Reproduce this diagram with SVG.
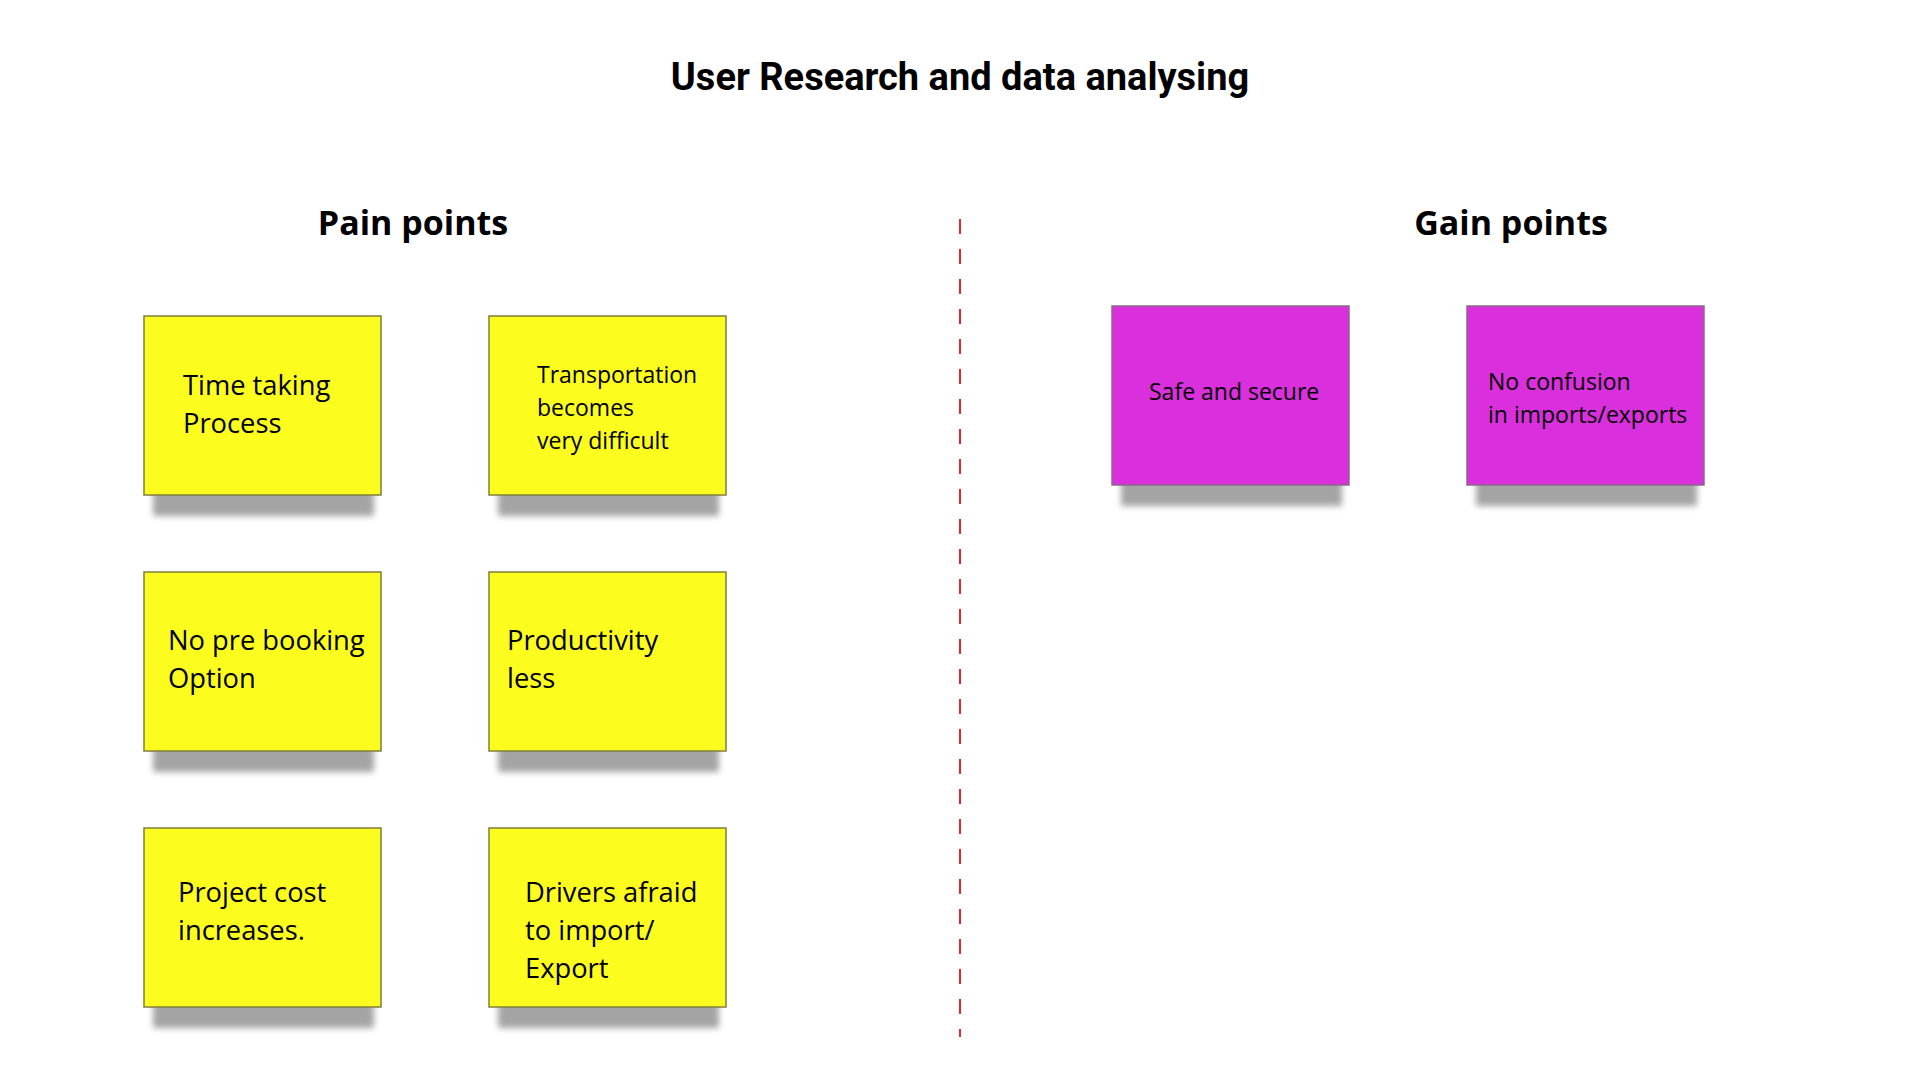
<svg xmlns="http://www.w3.org/2000/svg" width="1920" height="1080" viewBox="0 0 1920 1080">
<defs>
<filter id="blur" x="-20%" y="-100%" width="140%" height="300%"><feGaussianBlur stdDeviation="3"/></filter>
</defs>
<style>
.title{font-family:Roboto,"Liberation Sans",sans-serif;font-weight:700;font-size:38px;fill:#000;}
.head{font-family:"Open Sans","Noto Sans",sans-serif;font-weight:700;font-size:34px;fill:#000;}
.t28{font-family:"Open Sans","Noto Sans",sans-serif;font-size:27.3px;fill:#000;}
.t23{font-family:"Open Sans","Noto Sans",sans-serif;font-size:23px;fill:#000;}
.yellow{fill:#fcfc1f;stroke:#7f7f3c;stroke-width:1.5;}
.pink{fill:#d92fdc;stroke:#8a6a8a;stroke-width:1.5;}
.shadow{fill:#a4a4a4;filter:url(#blur);}
</style>
<rect width="1920" height="1080" fill="#fff"/>
<text class="title" x="960" y="90" text-anchor="middle">User Research and data analysing</text>
<text class="head" x="413" y="235" text-anchor="middle">Pain points</text>
<text class="head" x="1511" y="235" text-anchor="middle">Gain points</text>
<g id="connectors">
<line x1="960" y1="219" x2="960" y2="1037" stroke="#e5262b" stroke-width="2" stroke-dasharray="15 15"/>
</g>
<g id="n1">
<rect class="shadow" x="153" y="478" width="221" height="38"/>
<rect class="yellow" x="144" y="316" width="237" height="179"/>
<text class="t28" x="183" y="395">Time taking</text>
<text class="t28" x="183" y="433">Process</text>
</g>
<g id="n2">
<rect class="shadow" x="498" y="478" width="221" height="38"/>
<rect class="yellow" x="489" y="316" width="237" height="179"/>
<text class="t23" x="537" y="383">Transportation</text>
<text class="t23" x="537" y="416">becomes</text>
<text class="t23" x="537" y="449">very difficult</text>
</g>
<g id="n3">
<rect class="shadow" x="153" y="734" width="221" height="38"/>
<rect class="yellow" x="144" y="572" width="237" height="179"/>
<text class="t28" x="168" y="650">No pre booking</text>
<text class="t28" x="168" y="688">Option</text>
</g>
<g id="n4">
<rect class="shadow" x="498" y="734" width="221" height="38"/>
<rect class="yellow" x="489" y="572" width="237" height="179"/>
<text class="t28" x="507" y="650">Productivity</text>
<text class="t28" x="507" y="688">less</text>
</g>
<g id="n5">
<rect class="shadow" x="153" y="990" width="221" height="38"/>
<rect class="yellow" x="144" y="828" width="237" height="179"/>
<text class="t28" x="178" y="902">Project cost</text>
<text class="t28" x="178" y="940">increases.</text>
</g>
<g id="n6">
<rect class="shadow" x="498" y="990" width="221" height="38"/>
<rect class="yellow" x="489" y="828" width="237" height="179"/>
<text class="t28" x="525" y="902">Drivers afraid</text>
<text class="t28" x="525" y="940">to import/</text>
<text class="t28" x="525" y="978">Export</text>
</g>
<g id="g1">
<rect class="shadow" x="1121" y="468" width="221" height="38"/>
<rect class="pink" x="1112" y="306" width="237" height="179"/>
<text class="t23" x="1149" y="400">Safe and secure</text>
</g>
<g id="g2">
<rect class="shadow" x="1476" y="468" width="221" height="38"/>
<rect class="pink" x="1467" y="306" width="237" height="179"/>
<text class="t23" x="1488" y="390">No confusion</text>
<text class="t23" x="1488" y="423">in imports/exports</text>
</g>
</svg>
